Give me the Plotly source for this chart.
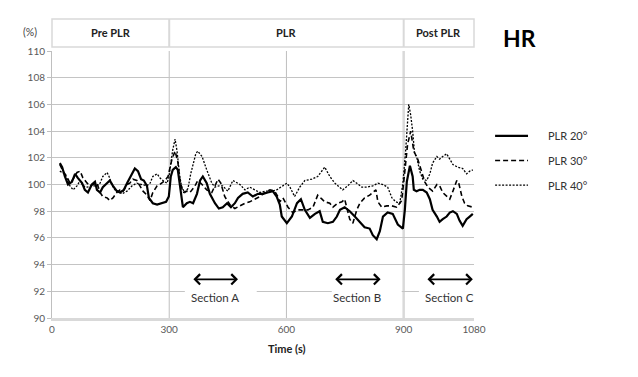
import plotly.graph_objects as go

# ---------------- data (time in s, HR in %) ----------------
t20 = [20, 26, 33, 41, 51, 59, 66, 77, 84, 92, 102, 110, 115, 123, 130, 141, 148, 156, 166, 174,
       184, 192, 202, 212, 220, 228, 235, 243, 248, 258, 269, 281, 292, 299, 304, 309, 317, 322, 330, 335,
       345, 353, 361, 371, 379, 386, 396, 404, 417, 427, 437, 448, 458, 468, 476, 488, 501, 514, 527, 540,
       552, 565, 575, 583, 588, 601, 614, 627, 637, 647, 660, 673, 685, 693, 706, 719, 729, 737, 749, 762,
       775, 788, 800, 813, 821, 831, 839, 847, 859, 872, 885, 898, 903, 908, 916, 923, 926, 933, 941, 949,
       959, 967, 974, 985, 992, 1000, 1010, 1018, 1026, 1036, 1043, 1051, 1061, 1069, 1077]
v20 = [101.6, 101.3, 100.6, 100.0, 100.2, 100.8, 100.5, 100.1, 99.6, 99.4, 100.0, 100.2, 99.6, 99.4, 99.8, 100.1, 100.3, 99.9, 99.5, 99.4,
       99.6, 100.1, 100.7, 101.2, 101.0, 100.4, 100.3, 99.9, 99.0, 98.6, 98.5, 98.6, 98.7, 99.1, 100.6, 101.1, 101.3, 101.1, 99.5, 98.3,
       98.6, 98.7, 98.6, 99.3, 100.3, 100.6, 100.1, 99.3, 98.6, 98.2, 98.3, 98.6, 98.3, 98.6, 99.0, 99.3, 99.4, 99.1, 99.3, 99.3,
       99.4, 99.5, 99.1, 98.5, 97.6, 97.1, 97.6, 98.6, 98.9, 98.1, 97.5, 97.8, 98.0, 97.2, 97.1, 97.2, 97.6, 98.1, 98.3, 98.0,
       97.6, 97.2, 96.8, 96.7, 96.2, 95.9, 96.5, 97.6, 97.9, 97.8, 97.0, 96.7, 98.1, 100.2, 101.4, 100.6, 99.6, 99.5, 99.6, 99.6,
       99.4, 98.9, 98.1, 97.6, 97.2, 97.4, 97.6, 97.9, 98.0, 97.8, 97.3, 96.9, 97.4, 97.6, 97.8]

t30 = [20, 28, 38, 46, 54, 64, 72, 79, 90, 97, 105, 115, 123, 130, 141, 148, 156, 166, 174, 182,
       192, 199, 207, 217, 225, 233, 243, 251, 258, 269, 276, 289, 297, 307, 315, 322, 327, 335, 345, 353,
       366, 373, 384, 396, 409, 417, 425, 432, 442, 455, 468, 481, 494, 506, 519, 532, 545, 558, 570, 578,
       583, 591, 604, 616, 629, 642, 655, 668, 680, 691, 698, 711, 719, 731, 742, 749, 754, 762, 770, 780,
       788, 800, 813, 821, 829, 834, 844, 857, 870, 882, 895, 903, 910, 918, 926, 936, 941, 946, 954, 962,
       974, 985, 992, 1000, 1010, 1018, 1026, 1036, 1041, 1049, 1056, 1064, 1077]
v30 = [101.5, 101.0, 100.6, 100.1, 100.4, 100.9, 101.0, 100.5, 100.1, 99.9, 100.0, 100.1, 99.4, 99.1, 99.0, 98.8, 99.0, 99.4, 99.6, 99.5,
       100.0, 100.1, 100.4, 100.3, 99.9, 99.5, 99.2, 98.8, 99.4, 99.9, 100.0, 100.3, 100.6, 101.9, 102.5, 101.7, 100.4, 99.4, 99.5, 99.4,
       99.9, 100.3, 100.0, 99.6, 99.4, 99.9, 100.4, 100.1, 99.1, 98.5, 98.2, 98.4, 98.6, 98.7, 98.9, 99.1, 99.4, 99.6, 99.5, 99.1,
       98.7, 99.0, 98.3, 97.9, 98.1, 98.1, 98.1, 98.3, 99.2, 98.9, 98.7, 98.6, 98.3, 98.6, 98.7, 98.9, 98.3, 97.4, 97.1, 98.1,
       98.6, 99.0, 99.2, 99.4, 99.6, 98.7, 98.3, 98.4, 98.4, 98.3, 98.8, 101.0, 103.0, 104.0, 102.5, 101.9, 101.4, 100.9, 100.2, 99.8,
       99.5, 100.0, 99.9, 99.4, 99.1, 98.9, 99.5, 100.3, 100.1, 99.1, 98.6, 98.4, 98.3]

t40 = [20, 33, 46, 54, 64, 72, 79, 90, 102, 115, 123, 130, 141, 146, 153, 161, 169, 179, 192, 205,
       217, 230, 243, 251, 258, 269, 276, 284, 294, 299, 304, 309, 315, 320, 327, 332, 340, 348, 355, 361,
       368, 373, 384, 396, 409, 417, 427, 437, 450, 463, 481, 494, 506, 519, 532, 545, 563, 575, 591, 601,
       609, 621, 634, 647, 665, 680, 698, 711, 724, 737, 744, 757, 770, 780, 793, 806, 821, 834, 847, 859,
       870, 880, 890, 898, 905, 913, 918, 923, 928, 933, 941, 949, 959, 967, 974, 985, 992, 1000, 1010, 1018,
       1026, 1038, 1051, 1061, 1069, 1077]
v40 = [101.0, 100.8, 99.9, 99.6, 99.9, 100.3, 99.9, 99.8, 99.9, 99.9, 100.1, 100.6, 100.9, 100.6, 100.0, 99.6, 99.5, 99.3, 99.5, 99.9,
       100.1, 100.0, 99.9, 100.1, 100.6, 100.8, 100.5, 100.3, 100.1, 100.5, 101.5, 102.6, 103.4, 102.5, 100.6, 99.8, 99.4, 99.7, 100.8, 101.6,
       102.3, 102.5, 102.1, 101.1, 100.1, 99.8, 99.9, 99.9, 99.5, 100.3, 100.0, 99.6, 99.8, 99.6, 99.4, 99.5, 99.5, 99.6, 99.9, 100.1,
       99.8, 99.1, 99.8, 100.3, 100.4, 100.6, 101.3, 100.6, 100.1, 99.8, 99.6, 99.9, 100.3, 100.1, 99.8, 99.8, 99.9, 100.1, 100.0, 99.8,
       99.0, 98.7, 98.6, 100.1, 102.5, 106.0, 105.2, 104.0, 102.3, 102.1, 101.0, 100.4, 100.3, 100.8, 101.6, 102.1, 101.9, 102.1, 102.3, 101.9,
       101.5, 101.3, 101.2, 100.8, 101.0, 101.1]

x_ticks = [0, 300, 600, 900, 1080]
y_ticks = [90, 92, 94, 96, 98, 100, 102, 104, 106, 108, 110]
series_names = ["PLR 20°", "PLR 30°", "PLR 40°"]
phases = ["Pre PLR", "PLR", "Post PLR"]
phase_bounds = [0, 300, 900, 1080]
sections = ["Section A", "Section B", "Section C"]
section_spans = [(358, 476), (721, 841), (957, 1077)]

FONT = "Lato, 'Liberation Sans', sans-serif"
fig = go.Figure()
styles = [dict(color="black", width=2.2, dash="solid"),
          dict(color="black", width=1.6, dash="5px,3px"),
          dict(color="black", width=1.3, dash="2px,1.5px")]
for (tx, vy, nm, st) in [(t20, v20, series_names[0], styles[0]),
                         (t30, v30, series_names[1], styles[1]),
                         (t40, v40, series_names[2], styles[2])]:
    fig.add_trace(go.Scatter(x=tx, y=vy, mode="lines", name=nm, line=st, showlegend=False))

shapes = []
# vertical gridlines
for xv, col, w in [(300, "#bfbfbf", 1), (600, "#bfbfbf", 1), (900, "#d9d9d9", 2.5)]:
    shapes.append(dict(type="line", xref="x", yref="y", x0=xv, x1=xv, y0=90, y1=110,
                       line=dict(color=col, width=w), layer="below"))
# header box
hy0, hy1 = 1.015, 1.120
shapes.append(dict(type="rect", xref="paper", yref="paper", x0=0, x1=1, y0=hy0, y1=hy1,
                   line=dict(color="#d9d9d9", width=1.5)))
for xv in [300, 900]:
    shapes.append(dict(type="line", xref="x", yref="paper", x0=xv, x1=xv, y0=hy0, y1=hy1,
                       line=dict(color="#d9d9d9", width=2)))
# white boxes behind section labels
for (a, b) in [(340, 524), (716, 895), (939, 1080)]:
    shapes.append(dict(type="rect", xref="x", yref="y", x0=a, x1=b, y0=91.0, y1=92.6,
                       fillcolor="white", line=dict(width=0), layer="above"))
# legend lines
leg_y = [0.682, 0.590, 0.498]
for yy, st in zip(leg_y, styles):
    shapes.append(dict(type="line", xref="paper", yref="paper", x0=1.050, x1=1.128, y0=yy, y1=yy,
                       line=dict(color="black", width=st["width"], dash=st["dash"])))

C = dict(xanchor="center", yanchor="middle", showarrow=False)
annotations = []
# phase labels
for i, ph in enumerate(phases):
    xc = (phase_bounds[i] + phase_bounds[i + 1]) / 2
    annotations.append(dict(x=xc, y=(hy0 + hy1) / 2, xref="x", yref="paper", text="<b>%s</b>" % ph,
                            font=dict(family=FONT, size=11, color="#222"), **C))
# section arrows and labels
for (a, b), lab in zip(section_spans, sections):
    annotations.append(dict(x=b, y=92.9, ax=a, ay=92.9, xref="x", yref="y", axref="x", ayref="y",
                            text="", showarrow=True, arrowhead=4, startarrowhead=4, arrowside="end+start",
                            arrowwidth=1.8, arrowsize=1.1, startarrowsize=1.1, arrowcolor="black"))
    annotations.append(dict(x=(a + b) / 2, y=91.55, xref="x", yref="y", text=lab,
                            font=dict(family=FONT, size=11.5, color="#333"), **C))
# legend texts
for yy, nm in zip(leg_y, series_names):
    annotations.append(dict(x=1.171, y=yy, xref="paper", yref="paper", text=nm, showarrow=False,
                            xanchor="left", yanchor="middle", font=dict(family=FONT, size=11, color="#333")))
annotations.append(dict(x=1.109, y=1.049, xref="paper", yref="paper", text="<b>HR</b>",
                        font=dict(family=FONT, size=23, color="black"), **C))
annotations.append(dict(x=-0.052, y=1.071, xref="paper", yref="paper", text="(%)",
                        font=dict(family=FONT, size=10.5, color="#444"), **C))
annotations.append(dict(x=0.557, y=-0.116, xref="paper", yref="paper", text="<b>Time (s)</b>",
                        font=dict(family=FONT, size=11, color="#222"), **C))

# page body has an 8px margin, so the figure is 8px smaller with 8px less margin on top/left
fig.update_layout(
    width=630, height=369,
    margin=dict(l=44, r=164, t=43, b=59),
    paper_bgcolor="white", plot_bgcolor="white",
    font=dict(family=FONT, size=10, color="#595959"),
    shapes=shapes, annotations=annotations,
    xaxis=dict(range=[0, 1080], tickvals=x_ticks, ticktext=[str(v) for v in x_ticks],
               showgrid=False, zeroline=False, showline=True, linecolor="#d9d9d9", linewidth=3,
               ticks="", tickfont=dict(family=FONT, size=10, color="#595959")),
    yaxis=dict(range=[90, 110], tickvals=y_ticks, ticktext=[str(v) for v in y_ticks],
               showgrid=True, gridcolor="#c4c4c4", gridwidth=1, zeroline=False,
               showline=True, linecolor="#bfbfbf", linewidth=1,
               ticks="outside", ticklen=4, tickcolor="#bfbfbf",
               tickfont=dict(family=FONT, size=10, color="#595959")),
)
fig.write_html("out.html")
